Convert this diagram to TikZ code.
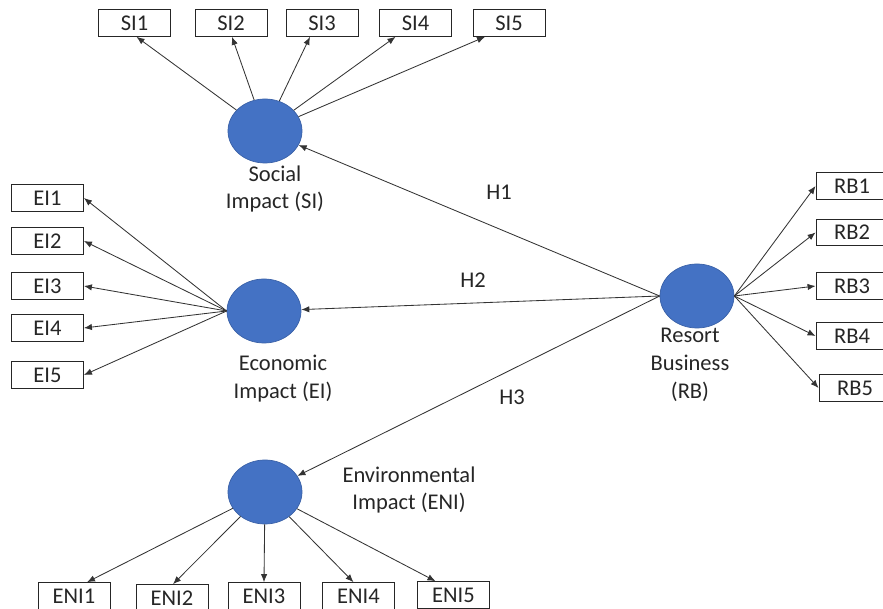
\documentclass[tikz,border=0pt]{standalone}
\usepackage{fontspec}
\setmainfont{Carlito}
\usetikzlibrary{arrows.meta,shapes.geometric}

\definecolor{latentblue}{HTML}{4472C4}

\begin{document}
\begin{tikzpicture}[x=0.025cm, y=-0.025cm,
        font=\fontsize{16}{19.9}\selectfont, text=black!85,
        latent/.style={ellipse, fill=latentblue, draw=latentblue!85!black, line width=0.5pt,
            minimum width=1.85cm, minimum height=1.6cm, inner sep=0pt},
        indicator/.style={draw=black!85, fill=white, line width=0.6pt,
            minimum width=1.8cm, minimum height=0.67cm, inner sep=0pt},
        link/.style={draw=black!80, line width=0.6pt, -{Latex[length=2mm,width=1.6mm]}}]

        \useasboundingbox (0,0) rectangle (883,609);

        % Latent constructs
        \node[latent] (SI) at (265,131) {};
        \node[latent] (EI) at (264,311) {};
        \node[latent] (RB) at (697,296) {};
        \node[latent] (ENI) at (265,492) {};

        % Construct labels
        \node[align=center] (SIlabel) at (275,189) {Social\\Impact (SI)};
        \node[align=center] (EIlabel) at (283,379) {Economic\\Impact (EI)};
        \node[align=center] (RBlabel) at (690,365) {Resort\\Business\\(RB)};
        \node[align=center] (ENIlabel) at (409,490) {Environmental\\Impact (ENI)};

        % Hypotheses
        \draw[link] (RB.west) -- (SI);
        \draw[link] (RB.west) -- (EI);
        \draw[link] (RB.west) -- (ENI);
        \node (H1) at (499,192) {H1};
        \node (H2) at (473,280) {H2};
        \node (H3) at (512,397) {H3};

        % Social Impact indicators
        \foreach \i/\x/\dx in {1/134.5/2, 2/231/1, 3/322/-12, 4/415.5/-20, 5/509/-24} {
            \node[indicator] (SI\i) at (\x,23) {SI\i};
            \draw[link] (SI) -- ([xshift=\dx*0.025cm]SI\i.south);
        }

        % Economic Impact indicators
        \foreach \i/\y in {1/198, 2/241, 3/286, 4/328, 5/375} {
            \node[indicator] (EI\i) at (47.5,\y) {EI\i};
            \draw[link] (EI.west) -- (EI\i.east);
        }

        % Resort Business indicators
        \foreach \i/\x/\y in {1/852/186, 2/852/232.5, 3/852/286, 4/852/336, 5/855/388} {
            \node[indicator] (RB\i) at (\x,\y) {RB\i};
            \draw[link] (RB.east) -- (RB\i.west);
        }

        % Environmental Impact indicators
        \foreach \i/\x/\y/\dx in {1/74/596/13, 2/172/598/1, 3/264/596/0, 4/358.5/596/-5, 5/453.5/595/-18} {
            \node[indicator] (ENI\i) at (\x,\y) {ENI\i};
            \draw[link] (ENI) -- ([xshift=\dx*0.025cm]ENI\i.north);
        }

    \end{tikzpicture}
\end{document}
